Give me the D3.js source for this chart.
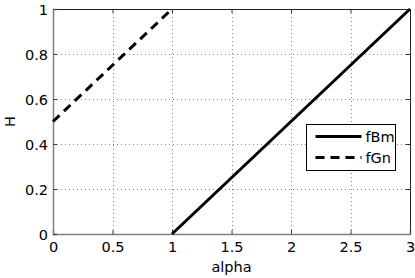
<!DOCTYPE html>
<html>
<head>
<meta charset="utf-8">
<script src="https://cdn.jsdelivr.net/npm/d3@7"></script>
<style>
  body { margin: 0; background: #fff; }
  text { font-family: 'DejaVu Sans', Helvetica, Arial, sans-serif; }
</style>
</head>
<body>
<div id="chart"></div>
<script>
const seriesNames = ['fBm', 'fGn']
const fBmAlpha = [1, 3]
const fBmH = [0, 1]
const fGnAlpha = [0, 1]
const fGnH = [0.5, 1]
const xTicks = [0, 0.5, 1, 1.5, 2, 2.5, 3]
const yTicks = [0, 0.2, 0.4, 0.6, 0.8, 1]

const W = 415
const H = 278
const margin = { left: 53, right: 5, top: 9, bottom: 44 }
const FONT = "'DejaVu Sans', Helvetica, Arial, sans-serif"
const FS = 14.5

const svg = d3.select('#chart').append('svg').attr('width', W).attr('height', H)
svg.append('rect').attr('width', W).attr('height', H).attr('fill', '#ffffff')

const x = d3.scaleLinear().domain([0, 3]).range([margin.left, W - margin.right])
const y = d3.scaleLinear().domain([0, 1]).range([H - margin.bottom, margin.top])

// dotted grid
const grid = svg.append('g')
grid.selectAll('line.gx')
  .data(xTicks.slice(1, -1))
  .join('line')
  .attr('x1', (d) => Math.round(x(d)) + 0.5)
  .attr('x2', (d) => Math.round(x(d)) + 0.5)
  .attr('y1', y(0))
  .attr('y2', y(1))
  .attr('stroke', '#666')
  .attr('stroke-width', 0.8)
  .attr('stroke-dasharray', '1 3')
grid.selectAll('line.gy')
  .data(yTicks.slice(1, -1))
  .join('line')
  .attr('y1', (d) => Math.round(y(d)) + 0.5)
  .attr('y2', (d) => Math.round(y(d)) + 0.5)
  .attr('x1', x(0))
  .attr('x2', x(3))
  .attr('stroke', '#666')
  .attr('stroke-width', 0.8)
  .attr('stroke-dasharray', '1 3')

// top and right axes: ticks only, dark box edge
const gTop = svg.append('g').attr('transform', `translate(0,${y(1)})`)
  .call(d3.axisTop(x).tickValues(xTicks).tickSize(-4).tickFormat(''))
const gRight = svg.append('g').attr('transform', `translate(${x(3)},0)`)
  .call(d3.axisRight(y).tickValues(yTicks).tickSize(-4).tickFormat(''))
for (const g of [gTop, gRight]) {
  g.select('.domain').attr('stroke', '#222').attr('stroke-width', 1)
  g.selectAll('.tick line').attr('stroke', '#333')
}

// bottom and left axes
const xAxis = d3.axisBottom(x).tickValues(xTicks).tickSize(-4).tickPadding(8).tickFormat(d3.format('~g'))
const yAxis = d3.axisLeft(y).tickValues(yTicks).tickSize(-4).tickPadding(5).tickFormat(d3.format('~g'))

const gx = svg.append('g').attr('transform', `translate(0,${y(0)})`).call(xAxis)
const gy = svg.append('g').attr('transform', `translate(${x(0)},0)`).call(yAxis)

for (const g of [gx, gy]) {
  g.select('.domain').attr('stroke', '#808080').attr('stroke-width', 1.5)
  g.selectAll('.tick line').attr('stroke', '#444')
  g.selectAll('.tick text').attr('fill', '#000').attr('font-size', FS).attr('font-family', FONT)
}
gy.selectAll('.tick text').attr('dy', '0.36em')

// axis labels
svg.append('text')
  .attr('x', (x(0) + x(3)) / 2)
  .attr('y', 272)
  .attr('text-anchor', 'middle')
  .attr('font-size', FS)
  .text('alpha')

svg.append('text')
  .attr('transform', `translate(15,${(y(0) + y(1)) / 2}) rotate(-90)`)
  .attr('text-anchor', 'middle')
  .attr('font-size', FS)
  .text('H')

// series
const line = d3.line().x((d) => x(d[0])).y((d) => y(d[1]))

const plot = svg.append('g')
plot.append('path')
  .attr('d', line(d3.zip(fBmAlpha, fBmH)))
  .attr('fill', 'none')
  .attr('stroke', '#000')
  .attr('stroke-width', 3)

plot.append('path')
  .attr('d', line(d3.zip(fGnAlpha, fGnH)))
  .attr('fill', 'none')
  .attr('stroke', '#000')
  .attr('stroke-width', 3)
  .attr('stroke-dasharray', '9 6')

// legend
const legend = svg.append('g').attr('transform', 'translate(306.5,124.5)')
legend.append('rect')
  .attr('width', 89)
  .attr('height', 46)
  .attr('fill', '#fff')
  .attr('stroke', '#000')
  .attr('stroke-width', 1)

seriesNames.forEach((name, i) => {
  const row = legend.append('g').attr('transform', `translate(0,${12 + i * 21})`)
  row.append('line')
    .attr('x1', 9)
    .attr('x2', 55)
    .attr('y1', 0)
    .attr('y2', 0)
    .attr('stroke', '#000')
    .attr('stroke-width', 3)
    .attr('stroke-dasharray', i === 1 ? '9 6' : null)
  row.append('text')
    .attr('x', 59)
    .attr('y', 0)
    .attr('dy', '0.36em')
    .attr('font-size', FS)
    .text(name)
})
</script>
</body>
</html>
